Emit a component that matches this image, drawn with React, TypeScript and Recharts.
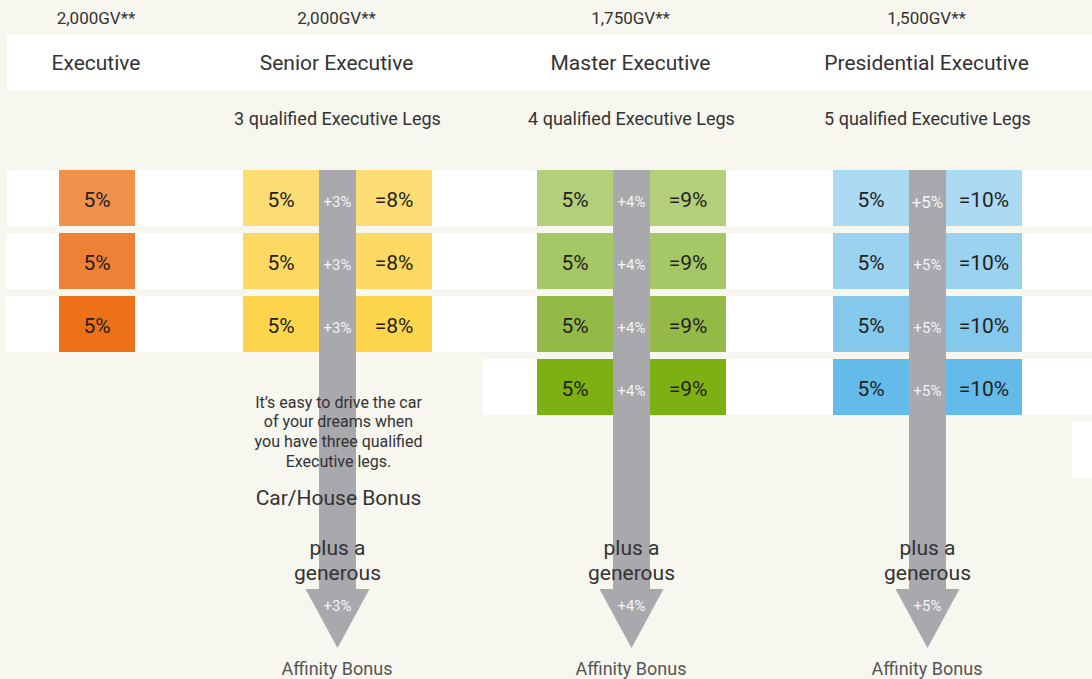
import React from "react";
import { ComposedChart, Scatter, XAxis, YAxis } from "recharts";

document.body.style.margin = "0";
document.body.style.background = "#F7F7EF";

// ---- data ----
const tiers = ["Executive", "Senior Executive", "Master Executive", "Presidential Executive"];
const gvRequired = [2000, 2000, 1750, 1500];
const qualifiedLegs = [0, 3, 4, 5];
const legRowsShown = [3, 3, 4, 4];
const baseRate = [5, 5, 5, 5];
const executiveBonus = [0, 3, 4, 5];
const totalRate = [5, 8, 9, 10];
const carText = ["It’s easy to drive the car", "of your dreams when", "you have three qualified", "Executive legs."];

// ---- layout / style ----
const W = 1092;
const H = 679;
const ROW = 63; // px per leg row
const Y0 = 1 - 198 / ROW; // row 1 centre sits at 198px
const yOf = (px: number) => px / ROW + Y0;
const COL_X = [97, 337.5, 631.5, 927.5];
const BOX_W = 76;
const BOX_H = 56;
const SHAFT_W = 37;
const SIDE = SHAFT_W / 2 + BOX_W / 2;
const FONT = "Roboto, 'DejaVu Sans', sans-serif";
const BG = "#F7F7EF";
const GREY = "#A9A8AD";
const ROW_COLORS = [
  ["#F0924B", "#EE8135", "#EC7118"],
  ["#FCDD73", "#FCD962", "#FCD54C"],
  ["#B3CF7A", "#A5C765", "#93BA47", "#7DB012"],
  ["#ADDAF3", "#9AD2F0", "#84C8EC", "#64BBE9"],
];

const fmtGV = (v: number) => `${v.toLocaleString("en-US")}GV**`;

// white background bands (left edge, row)
const bands = [
  { x: 7, y: yOf(63) },
  { x: 7, y: 1 },
  { x: 6, y: 2 },
  { x: 6, y: 3 },
  { x: 483, y: 4 },
  { x: 1072, y: 5 },
];

const boxes: any[] = [];
tiers.forEach((_, t) => {
  for (let r = 0; r < legRowsShown[t]; r++) {
    const fill = ROW_COLORS[t][r];
    if (t === 0) {
      boxes.push({ x: COL_X[t], y: r + 1, label: `${baseRate[t]}%`, fill });
    } else {
      boxes.push({ x: COL_X[t] - SIDE, y: r + 1, label: `${baseRate[t]}%`, fill });
      boxes.push({ x: COL_X[t] + SIDE, y: r + 1, label: `=${totalRate[t]}%`, fill });
    }
  }
});

const arrows = tiers.map((_, t) => ({ x: COL_X[t], y: yOf(170), t })).filter(d => executiveBonus[d.t] > 0);
const heads = arrows.map(d => ({ x: d.x, y: yOf(589) }));

const bonusLabels: any[] = [];
tiers.forEach((_, t) => {
  if (!executiveBonus[t]) return;
  for (let r = 0; r < legRowsShown[t]; r++) {
    // the top presidential label is set a touch larger in the original
    const big = t === 3 && r === 0;
    bonusLabels.push({ x: COL_X[t], y: yOf(201.5 + 63 * r), label: `+${executiveBonus[t]}%`, big });
  }
  bonusLabels.push({ x: COL_X[t], y: yOf(606), label: `+${executiveBonus[t]}%` });
});

const gvLabels = tiers.map((_, t) => ({ x: COL_X[t] - 1, y: yOf(18), label: fmtGV(gvRequired[t]) }));
const nameLabels = tiers.map((n, t) => ({ x: COL_X[t] - 1, y: yOf(63), label: n }));
const legLabels = tiers
  .map((_, t) => ({ x: COL_X[t], y: yOf(118), label: `${qualifiedLegs[t]} qualified Executive Legs` }))
  .filter((_, t) => qualifiedLegs[t] > 0);
const paraLabels = carText.map((s, i) => ({ x: COL_X[1] + 1, y: yOf(402 + 19.7 * i), label: s }));
const carLabel = [{ x: COL_X[1] + 1, y: yOf(498), label: "Car/House Bonus" }];
const plusLabels = arrows.flatMap(d => [
  { x: d.x, y: yOf(548), label: "plus a" },
  { x: d.x, y: yOf(573), label: "generous" },
]);
const affinityLabels = arrows.map(d => ({ x: d.x - 0.5, y: yOf(668), label: "Affinity Bonus" }));

const txt = (size: number, color: string, weight = 400) => (p: any) => (
  <text x={p.cx} y={p.cy} textAnchor="middle" dominantBaseline="central"
    fontFamily={FONT} fontSize={p.payload.big ? size + 2 : size} fill={color} fontWeight={weight}>{p.payload.label}</text>
);

const bandShape = (p: any) => <rect x={p.cx} y={p.cy - BOX_H / 2} width={W - p.cx} height={BOX_H} fill="#fff" />;
const boxShape = (p: any) => (
  <g>
    <rect x={p.cx - BOX_W / 2} y={p.cy - BOX_H / 2} width={BOX_W} height={BOX_H} fill={p.payload.fill} />
    <text x={p.cx} y={p.cy + 2} textAnchor="middle" dominantBaseline="central"
      fontFamily={FONT} fontSize={21} fontWeight={400} fill="#231F20">{p.payload.label}</text>
  </g>
);
const shaftShape = (p: any) => <rect x={p.cx - SHAFT_W / 2} y={p.cy} width={SHAFT_W} height={589 - 170} fill={GREY} />;
const headShape = (p: any) => <path d={`M${p.cx - 32},${p.cy}L${p.cx + 32},${p.cy}L${p.cx},${p.cy + 59}Z`} fill={GREY} />;

export default function App() {
  return (
    <div style={{ width: W, height: H, background: BG }}>
      <ComposedChart width={W} height={H} margin={{ top: 0, right: 0, bottom: 0, left: 0 }}>
        <XAxis type="number" dataKey="x" domain={[0, W]} allowDataOverflow hide />
        <YAxis type="number" dataKey="y" domain={[yOf(0), yOf(H)]} allowDataOverflow reversed hide />
        <Scatter data={bands} shape={bandShape} isAnimationActive={false} />
        <Scatter data={boxes} shape={boxShape} isAnimationActive={false} />
        <Scatter data={arrows} shape={shaftShape} isAnimationActive={false} />
        <Scatter data={heads} shape={headShape} isAnimationActive={false} />
        <Scatter data={bonusLabels} shape={txt(15, "#F4F4F4")} isAnimationActive={false} />
        <Scatter data={gvLabels} shape={txt(17, "#333")} isAnimationActive={false} />
        <Scatter data={nameLabels} shape={txt(21, "#333")} isAnimationActive={false} />
        <Scatter data={legLabels} shape={txt(18, "#333")} isAnimationActive={false} />
        <Scatter data={paraLabels} shape={txt(16, "#333")} isAnimationActive={false} />
        <Scatter data={carLabel} shape={txt(21, "#333")} isAnimationActive={false} />
        <Scatter data={plusLabels} shape={txt(21, "#333")} isAnimationActive={false} />
        <Scatter data={affinityLabels} shape={txt(18, "#555")} isAnimationActive={false} />
      </ComposedChart>
    </div>
  );
}
